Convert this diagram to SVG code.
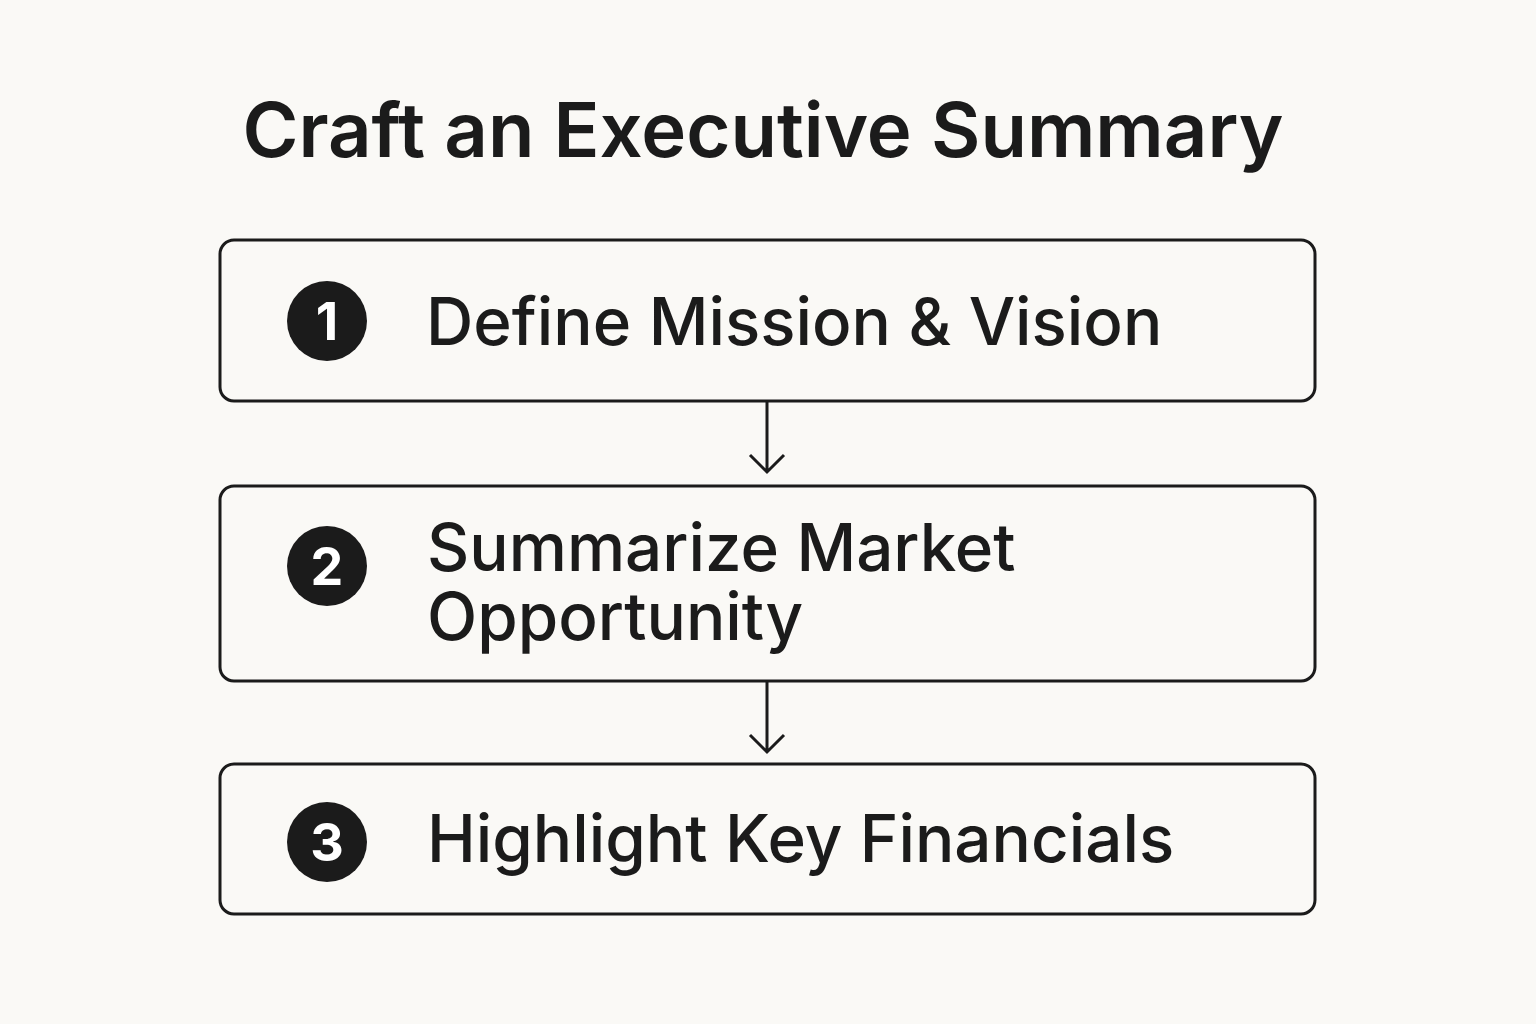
<svg xmlns="http://www.w3.org/2000/svg" width="1536" height="1024" viewBox="0 0 1536 1024">
<style>
.box{fill:#faf9f6;stroke:#1b1b1b;stroke-width:3}
.num{fill:#1b1b1b}
.numt{fill:#ffffff;font-family:Inter,"Liberation Sans",sans-serif;font-weight:700;font-size:52px;text-anchor:middle}
.lbl{fill:#1b1b1b;font-family:Inter,"Liberation Sans",sans-serif;font-weight:500;font-size:65.5px}
.title{fill:#1b1b1b;font-family:Inter,"Liberation Sans",sans-serif;font-weight:600;font-size:76px;text-anchor:middle}
.conn{stroke:#1b1b1b;stroke-width:3;fill:none}
</style>
<rect width="1536" height="1024" fill="#faf9f6"/>
<text class="title" x="763" y="157">Craft an Executive Summary</text>
<g id="connectors">
<path class="conn" d="M767 402 V472 M750 455 L767 472 L784 455"/>
<path class="conn" d="M767 682 V752 M750 735 L767 752 L784 735"/>
</g>
<g id="node1">
<rect class="box" x="220" y="240" width="1095" height="161" rx="14"/>
<circle class="num" cx="327" cy="321" r="40"/>
<text class="numt" x="327" y="340">1</text>
<text class="lbl" x="426" y="345">Define Mission &amp; Vision</text>
</g>
<g id="node2">
<rect class="box" x="220" y="486" width="1095" height="195" rx="14"/>
<circle class="num" cx="327" cy="566" r="40"/>
<text class="numt" x="327" y="585">2</text>
<text class="lbl" x="427" y="571">Summarize Market<tspan x="427" dy="69">Opportunity</tspan></text>
</g>
<g id="node3">
<rect class="box" x="220" y="764" width="1095" height="150" rx="14"/>
<circle class="num" cx="327" cy="842" r="40"/>
<text class="numt" x="327" y="861">3</text>
<text class="lbl" x="427" y="862">Highlight Key Financials</text>
</g>
</svg>
